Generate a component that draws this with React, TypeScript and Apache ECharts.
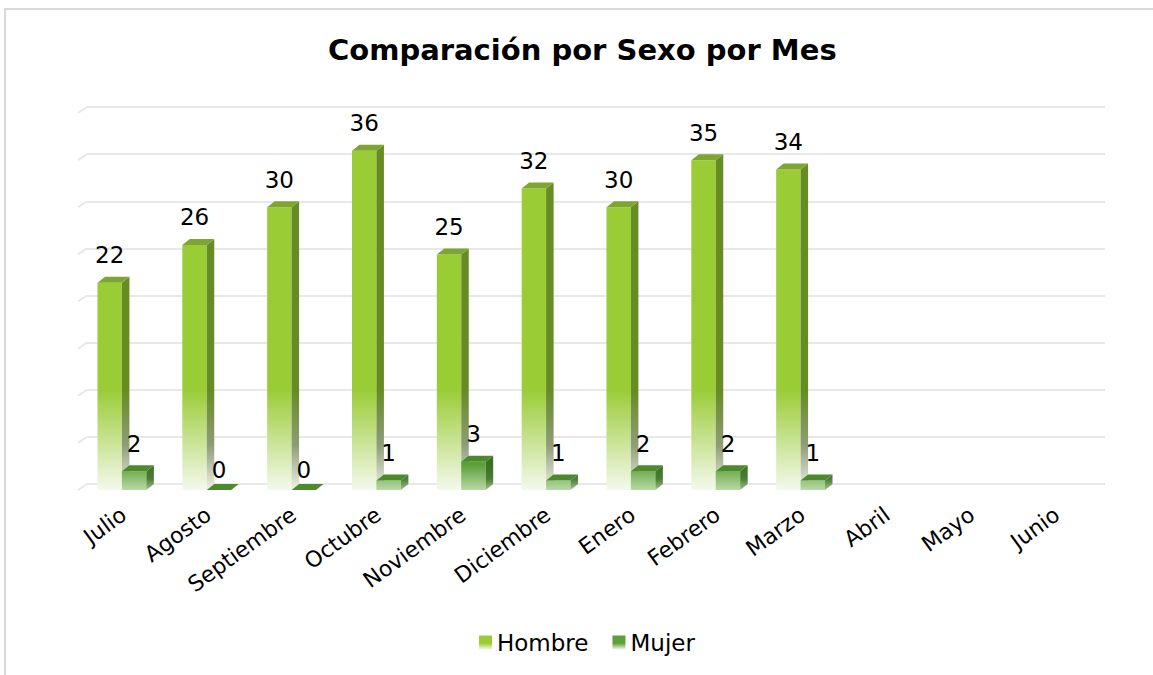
import React, { useEffect, useRef } from "react";
import * as echarts from "echarts";

const months = ["Julio", "Agosto", "Septiembre", "Octubre", "Noviembre", "Diciembre", "Enero", "Febrero", "Marzo", "Abril", "Mayo", "Junio"];
const hombre: (number | null)[] = [22, 26, 30, 36, 25, 32, 30, 35, 34, null, null, null];
const mujer: (number | null)[] = [2, 0, 0, 1, 3, 1, 2, 2, 1, null, null, null];
const yTicks = [0, 5, 10, 15, 20, 25, 30, 35, 40];

const FONT = '"DejaVu Sans", "Liberation Sans", Arial, sans-serif';

type Pal = { front: string; frontEnd: string; side: string; sideMid: string; sideEnd: string; top: string; fadeFrom: number };

const palH: Pal = { front: "#9acc36", frontEnd: "#f4f9ec", side: "#668c23", sideMid: "#8e9c78", sideEnd: "#eef2e8", top: "#7ca631", fadeFrom: 10 };
const palM: Pal = { front: "#5da039", frontEnd: "#b8d9a6", side: "#3b7022", sideMid: "#4c7c35", sideEnd: "#9fc08c", top: "#4c8a2b", fadeFrom: 2 };

function makeRender(side: 0 | 1, pal: Pal) {
  return (params: any, api: any) => {
    const v = api.value(1);
    if (v === null || v === undefined || isNaN(v)) return null;
    const i = api.value(0);
    const [c, yv] = api.coord([i, v]);
    const y0 = api.coord([i, 0])[1];
    const band = api.size([1, 0])[0];
    const w = band * 0.288;
    const dx = 7.5;
    const dy = 6;
    const bx = side === 0 ? c - w : c;
    const xf = bx - dx;
    const yT = yv + dy;
    const yB = y0 + dy;
    const fadeY = api.coord([i, pal.fadeFrom])[1];
    const frontGrad = new echarts.graphic.LinearGradient(0, fadeY, 0, yB, [
      { offset: 0, color: pal.front },
      { offset: 1, color: pal.frontEnd },
    ], true);
    const sideGrad = new echarts.graphic.LinearGradient(0, fadeY, 0, yB, [
      { offset: 0, color: pal.side },
      { offset: 0.55, color: pal.sideMid },
      { offset: 1, color: pal.sideEnd },
    ], true);
    const gap = v === 0 ? 3 : 10;
    return {
      type: "group",
      children: [
        { type: "rect", shape: { x: xf, y: yT, width: w, height: Math.max(0, yB - yT) }, style: { fill: frontGrad } },
        { type: "polygon", shape: { points: [[xf + w, yT], [xf + w + dx, yv], [xf + w + dx, y0], [xf + w, yB]] }, style: { fill: sideGrad } },
        { type: "polygon", shape: { points: [[xf, yT], [xf + w, yT], [xf + w + dx, yv], [xf + dx, yv]] }, style: { fill: pal.top } },
        {
          type: "text",
          x: xf + w / 2,
          y: yv - gap,
          style: { text: String(v), fill: "#000", fontSize: 23, fontFamily: FONT, align: "center", verticalAlign: "bottom" },
        },
      ],
    };
  };
}

function legendGrad(color: string) {
  return new echarts.graphic.LinearGradient(0, 0, 0, 1, [
    { offset: 0, color },
    { offset: 0.55, color },
    { offset: 1, color: "#f2f8ea" },
  ]);
}

export default function App() {
  const ref = useRef<HTMLDivElement>(null);
  useEffect(() => {
    if (!ref.current) return;
    const chart = echarts.init(ref.current, null, { renderer: "svg" });
    chart.setOption({
      animation: false,
      backgroundColor: "#ffffff",
      title: {
        text: "Comparación por Sexo por Mes",
        left: 323,
        top: 30,
        textStyle: { fontFamily: FONT, fontSize: 29, fontWeight: "bold", color: "#000" },
      },
      graphic: [
        { type: "rect", silent: true, shape: { x: 5, y: 9, width: 1200, height: 700 }, style: { fill: "none", stroke: "#d9d9d9", lineWidth: 2 } },
      ],
      legend: {
        left: 474,
        top: 626,
        itemWidth: 13,
        itemHeight: 14,
        itemGap: 24,
        textStyle: { fontFamily: FONT, fontSize: 23, color: "#000" },
        data: [
          { name: "Hombre", icon: "rect", itemStyle: { color: legendGrad(palH.front) } },
          { name: "Mujer", icon: "rect", itemStyle: { color: legendGrad(palM.front) } },
        ],
      },
      grid: { left: 87, right: 48, top: 107, bottom: 191, containLabel: false },
      xAxis: {
        type: "category",
        data: months,
        axisLine: { show: false },
        axisTick: { show: false },
        axisLabel: { interval: 0, rotate: 36, margin: 24, padding: [0, 7, 0, 0], fontFamily: FONT, fontSize: 22, color: "#000" },
      },
      yAxis: {
        type: "value",
        min: 0,
        max: 40,
        interval: 5,
        axisLabel: { show: false },
        axisLine: { show: false },
        axisTick: { show: false },
        splitLine: { show: true, lineStyle: { color: "#e8e8e8", width: 2 } },
      },
      series: [
        {
          name: "grid-depth",
          type: "custom",
          silent: true,
          data: yTicks.map((t) => [0, t]),
          encode: { x: 0, y: 1 },
          renderItem: (params: any, api: any) => {
            const y = api.coord([0, api.value(1)])[1];
            const x0 = params.coordSys.x;
            return { type: "line", shape: { x1: x0 - 9, y1: y + 6, x2: x0, y2: y }, style: { stroke: "#e8e8e8", lineWidth: 2 } };
          },
        },
        {
          name: "Hombre",
          type: "custom",
          itemStyle: { color: palH.front },
          data: hombre.map((v, i) => [i, v]),
          encode: { x: 0, y: 1 },
          renderItem: makeRender(0, palH),
        },
        {
          name: "Mujer",
          type: "custom",
          itemStyle: { color: palM.front },
          data: mujer.map((v, i) => [i, v]),
          encode: { x: 0, y: 1 },
          renderItem: makeRender(1, palM),
        },
      ],
    });
    return () => chart.dispose();
  }, []);
  return <div ref={ref} style={{ position: "fixed", left: 0, top: 0, width: 1153, height: 675 }} />;
}
